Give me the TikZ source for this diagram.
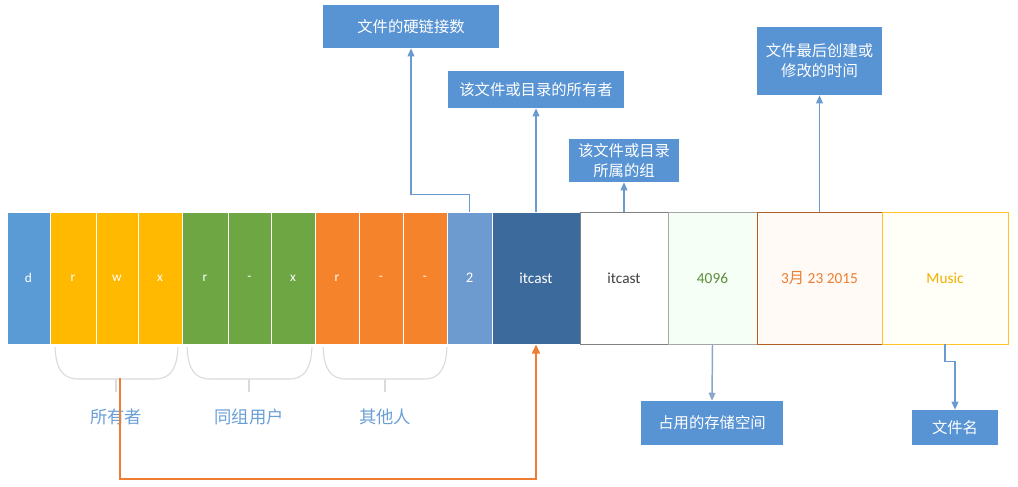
\documentclass[tikz,border=0pt]{standalone}
\usepackage{fontspec}
\setmainfont{Carlito}
\newfontfamily\cjk{Noto Sans CJK SC}
\usetikzlibrary{arrows.meta}
\definecolor{cblue}{HTML}{5B9BD5}
\definecolor{cyel}{HTML}{FFB900}
\definecolor{cgreen}{HTML}{6FA644}
\definecolor{corange}{HTML}{F5832B}
\definecolor{clblue}{HTML}{6D9BD0}
\definecolor{cdblue}{HTML}{3D6A9C}
\definecolor{cbox}{HTML}{5893D3}
\definecolor{carrow}{HTML}{6A9AD0}
\definecolor{cgarrow}{HTML}{8AA6C8}
\definecolor{cbrace}{HTML}{DADADA}
\definecolor{clabel}{HTML}{6A9FD6}
\definecolor{oarr}{HTML}{ED7D31}
\newcommand\mkcell[7]{\node[cellbox, fill=#4, draw=#5, text=#6, minimum width={(#3-#2)*0.75pt}] (#1) at ({(#2+#3)/2},278) {#7};}
\begin{document}
\begin{tikzpicture}[x=0.75pt,y=-0.75pt,
  cellbox/.style={rectangle, inner sep=0pt, minimum height={132*0.75pt}, line width=0.6pt, font=\fontsize{10}{12}\selectfont},
  tbox/.style={rectangle, fill=cbox, text=white, inner sep=0pt, align=center, font=\cjk\fontsize{11.5}{15}\selectfont},
  barrow/.style={draw=carrow, line width=1.1pt, -{Triangle[length=6pt,width=5pt]}},
  garrow/.style={draw=cgarrow, line width=1.1pt, -{Triangle[length=6pt,width=5pt]}},
  oarrow/.style={draw=oarr, line width=1.6pt, -{Triangle[length=7pt,width=6pt]}},
  brace/.style={draw=cbrace, line width=0.8pt},
  glabel/.style={text=clabel, font=\cjk\fontsize{13}{15}\selectfont}
]
\useasboundingbox[fill=white] (0,0) rectangle (1018,486);
% cells
\mkcell{d}{7}{50}{cblue}{white}{white}{d}
\mkcell{u1}{50}{96}{cyel}{white}{white}{r}
\mkcell{u2}{96}{138}{cyel}{white}{white}{w}
\mkcell{u3}{138}{182}{cyel}{white}{white}{x}
\mkcell{g1}{182}{228}{cgreen}{white}{white}{r}
\mkcell{g2}{228}{271}{cgreen}{white}{white}{-}
\mkcell{g3}{271}{315}{cgreen}{white}{white}{x}
\mkcell{r1}{315}{359}{corange}{white}{white}{r}
\mkcell{r2}{359}{403}{corange}{white}{white}{-}
\mkcell{r3}{403}{447}{corange}{white}{white}{-}
\mkcell{c2}{447}{492}{clblue}{white}{white}{\fontsize{11}{13}\selectfont 2}
\mkcell{own}{492}{580}{cdblue}{white}{white}{\fontsize{11.5}{14}\selectfont itcast}
\mkcell{grp}{580}{668}{white}{black!50}{black!75}{\fontsize{11.5}{14}\selectfont itcast}
\mkcell{sz}{668}{757}{green!4!white}{black!35}{cgreen!85!black}{\fontsize{11.5}{14}\selectfont 4096}
\mkcell{tm}{757}{882}{orange!4!white}{oarr!75!black}{oarr}{\fontsize{11.5}{14}\selectfont 3{\cjk 月} 23 2015}
\mkcell{nm}{882}{1008}{yellow!3!white}{cyel!85!white}{cyel!95!black}{\fontsize{11.5}{14}\selectfont Music}
% top boxes
\node[tbox, minimum width={176*0.75pt}, minimum height={43*0.75pt}] (b1) at (411,26.5) {文件的硬链接数};
\node[tbox, minimum width={176*0.75pt}, minimum height={37*0.75pt}] (b2) at (536,89.5) {该文件或目录的所有者};
\node[tbox, minimum width={110*0.75pt}, minimum height={43*0.75pt}] (b3) at (624,160.5) {该文件或目录\\所属的组};
\node[tbox, minimum width={125*0.75pt}, minimum height={68*0.75pt}] (b4) at (819.5,61) {文件最后创建或\\修改的时间};
\node[tbox, minimum width={142*0.75pt}, minimum height={44*0.75pt}] (b5) at (712,423) {占用的存储空间};
\node[tbox, minimum width={86*0.75pt}, minimum height={35*0.75pt}] (b6) at (955,427.5) {文件名};
% arrows
\draw[barrow] (c2.north) -- ++(0,-17) -| (b1.south);
\draw[barrow] (own.north) -- (b2.south);
\draw[barrow] (grp.north) -- (b3.south);
\draw[barrow] (tm.north) -- (b4.south);
\draw[garrow] (sz.south) -- (b5.north);
\draw[barrow] (nm.south) -- ++(0,17) -| (b6.north);
% braces
\draw[brace] (55,347) .. controls (56,368) and (62,379) .. (78,379) -- (155,379) .. controls (171,379) and (177,368) .. (178,347);
\draw[brace] (116,379) -- (116,392);
\draw[brace] (187,347) .. controls (188,368) and (194,379) .. (210,379) -- (289,379) .. controls (305,379) and (311,368) .. (312,347);
\draw[brace] (249,379) -- (249,392);
\draw[brace] (323,347) .. controls (324,368) and (330,379) .. (346,379) -- (424,379) .. controls (440,379) and (446,368) .. (447,347);
\draw[brace] (385,379) -- (385,392);
% group labels
\node[glabel] (l1) at (116,417) {所有者};
\node[glabel] (l2) at (249,417) {同组用户};
\node[glabel] (l3) at (385,417) {其他人};
% orange arrow
\coordinate (os) at (120,378);
\draw[oarrow] (os) -- ++(0,101) -| (own.south);
\end{tikzpicture}
\end{document}
